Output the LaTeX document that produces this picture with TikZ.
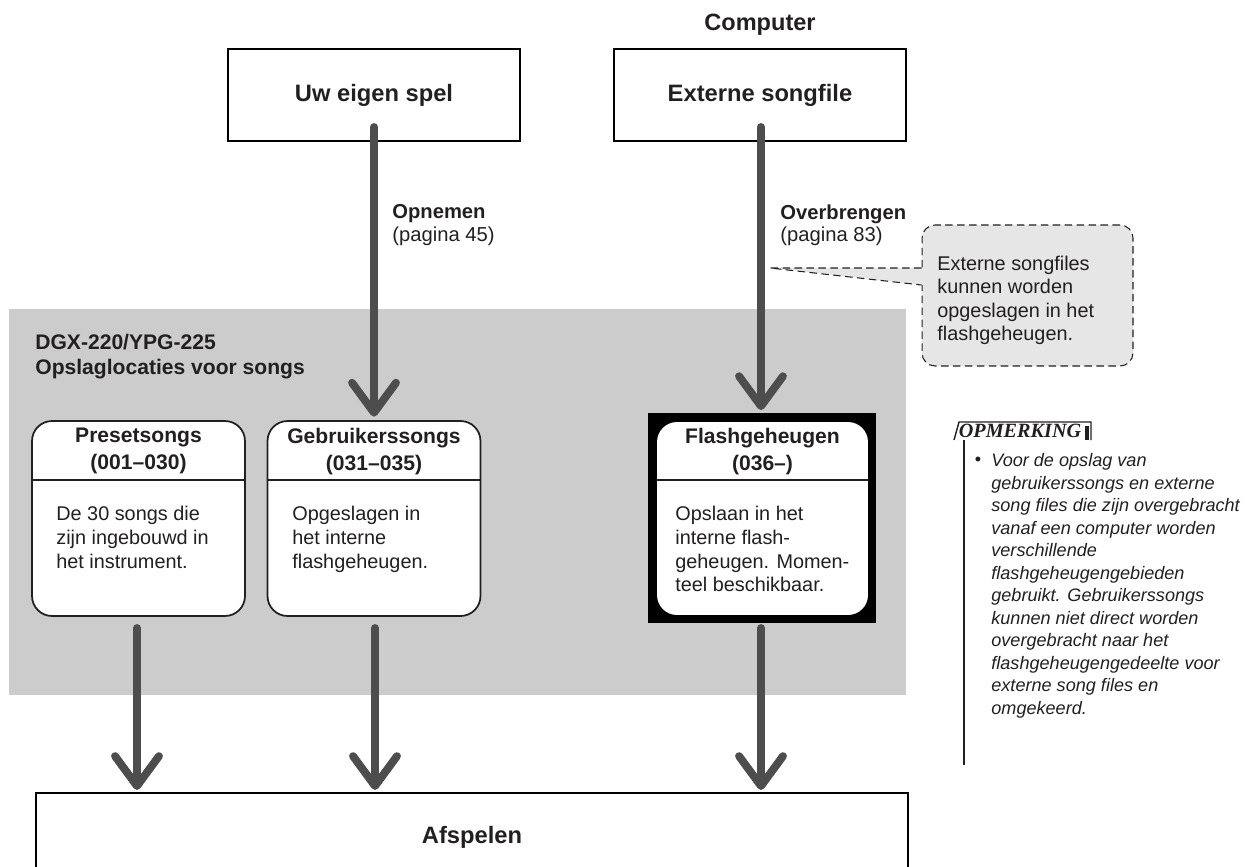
\documentclass[tikz,border=0pt]{standalone}
\usepackage{fontspec}
\setmainfont{Liberation Sans}
\newfontfamily\notefont{Liberation Serif}
\usetikzlibrary{arrows.meta}
\definecolor{arrowgray}{HTML}{4D4D4D}
\definecolor{bggray}{HTML}{CCCCCC}
\definecolor{callgray}{HTML}{E6E6E6}
\definecolor{ink}{HTML}{231F20}
\begin{document}
\begin{tikzpicture}[x=0.02cm,y=-0.02cm,
  every node/.style={text=ink},
  topbox/.style={draw=black, line width=1.5pt, minimum width=5.84cm, minimum height=1.84cm, inner sep=0pt, font=\fontsize{13.5}{16}\selectfont\bfseries},
  flow/.style={draw=arrowgray, line width=4.5pt, line cap=round, -{Straight Barb[length=17pt,width=25pt,round]}},
  songbox/.style={draw=ink, line width=1pt, rounded corners=0.4cm, fill=white, minimum width=4.26cm, minimum height=3.9cm, inner sep=0pt},
  songtitle/.style={anchor=north, align=center, inner sep=0pt, font=\fontsize{12}{15.2}\selectfont\bfseries},
  songbody/.style={anchor=north west, align=left, inner sep=0pt, font=\fontsize{11.3}{13.6}\selectfont},
  lbl/.style={anchor=north west, align=left, inner sep=0pt, font=\fontsize{11.5}{13}\selectfont},
  dashline/.style={draw=ink, line width=0.6pt, dash pattern=on 4.3pt off 2.5pt}
]
\clip (0,0) rectangle (1260,866);
\useasboundingbox (0,0) rectangle (1260,866);

% background region
\fill[bggray] (9,309) rectangle (906,695);

% top boxes
\node[font=\fontsize{13.4}{16}\selectfont\bfseries, inner sep=0pt] (comp) at (760,25) {Computer};
\node[topbox] (uw) at (374,95) {Uw eigen spel};
\node[topbox] (ext) at (760,95) {Externe songfile};

% labels
\node[lbl] (opn) at (392,204) {\textbf{Opnemen}\\(pagina 45)};
\node[lbl] (ovb) at (780,204) {\textbf{Overbrengen}\\(pagina 83)};

% region title
\node[anchor=north west, align=left, inner sep=0pt, font=\fontsize{12}{14.2}\selectfont\bfseries] (dgx) at (35,334) {DGX-220/YPG-225\\Opslaglocaties voor songs};

% song boxes
\node[songbox] (preset) at (138.5,518.5) {};
\draw[ink, line width=1pt] (preset.west |- 0,480) -- (preset.east |- 0,480);
\node[songtitle] (presett) at (138.5,428) {Presetsongs\\(001–030)};
\node[songbody] (presetb) at (56,505.5) {De 30 songs die\\zijn ingebouwd in\\het instrument.};

\node[songbox] (gebr) at (374,518.5) {};
\draw[ink, line width=1pt] (gebr.west |- 0,480) -- (gebr.east |- 0,480);
\node[songtitle] (gebrt) at (374,428) {Gebruikerssongs\\(031–035)};
\node[songbody] (gebrb) at (292,505.5) {Opgeslagen in\\het interne\\flashgeheugen.};

\node[fill=black, minimum width=4.56cm, minimum height=4.2cm, inner sep=0pt] (flashframe) at (762,518) {};
\node[songbox, draw=none, minimum width=4.22cm, minimum height=3.86cm] (flash) at (762.5,518.5) {};
\draw[ink, line width=1pt] (flash.west |- 0,480) -- (flash.east |- 0,480);
\node[songtitle] (flasht) at (762.5,428) {Flashgeheugen\\(036–)};
\node[songbody] (flashb) at (675,505.5) {Opslaan in het\\interne flash-\\geheugen. Momen-\\teel beschikbaar.};

% bottom box
\node[draw=black, line width=1.5pt, minimum width=17.44cm, minimum height=2.14cm, inner sep=0pt] (afsp) at (472,846.5) {};
\node[font=\fontsize{13.5}{16}\selectfont\bfseries, inner sep=0pt] (afspt) at (472,837) {Afspelen};

% arrows
\coordinate (u1) at (374,127);
\coordinate (e1) at (761,127);
\draw[flow, shorten >=2pt] (u1) -- (u1 |- gebr.north);
\draw[flow, shorten >=1.5pt] (e1) -- (e1 |- flashframe.north);
\coordinate (p1) at (137,628);
\coordinate (g1) at (375,628);
\coordinate (f1) at (761,628);
\draw[flow, shorten >=1pt] (p1) -- (p1 |- afsp.north);
\draw[flow, shorten >=1pt] (g1) -- (g1 |- afsp.north);
\draw[flow, shorten >=1pt] (f1) -- (f1 |- afsp.north);

% callout
\node[dashline, fill=callgray, rounded corners=0.26cm, minimum width=4.22cm, minimum height=2.82cm, inner sep=0pt] (call) at (1027.5,295.5) {};
\coordinate (ptr) at (770,268);
\fill[callgray] (ptr) -- (923.5,268) -- (923.5,285) -- cycle;
\draw[dashline] (call.west |- 0,268) -- (ptr) -- (call.west |- 0,285);
\node[anchor=north west, align=left, inner sep=0pt, font=\fontsize{11.3}{13.4}\selectfont] (callt) at (937,255.5) {Externe songfiles\\kunnen worden\\opgeslagen in het\\flashgeheugen.};

% note
\node[font=\notefont\bfseries\itshape\fontsize{11.5}{12}\selectfont, inner sep=0pt] (opm) at (1020,431) {OPMERKING};
\draw[ink, line width=0.8pt] (954,440) -- (959,422) -- (1091,422) -- (1091,440);
\draw[ink, line width=2.2pt] (1087,426) -- (1087,440);
\draw[ink, line width=0.8pt] (964,440) -- (964,765);
\node[inner sep=0pt, font=\fontsize{10.3}{12}\selectfont] (bul) at (978,461) {•};
\node[anchor=north west, align=left, inner sep=0pt, font=\itshape\fontsize{10.3}{12.8}\selectfont] (notet) at (991,453.5) {Voor de opslag van\\gebruikerssongs en externe\\song files die zijn overgebracht\\vanaf een computer worden\\verschillende\\flashgeheugengebieden\\gebruikt. Gebruikerssongs\\kunnen niet direct worden\\overgebracht naar het\\flashgeheugengedeelte voor\\externe song files en\\omgekeerd.};
\end{tikzpicture}
\end{document}
